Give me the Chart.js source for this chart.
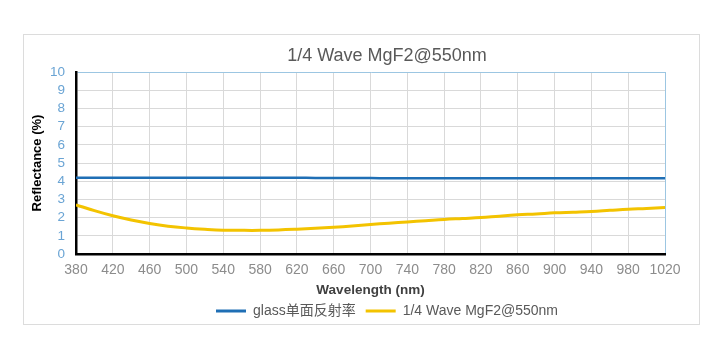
<!DOCTYPE html>
<html>
<head>
<meta charset="utf-8">
<script src="https://cdn.jsdelivr.net/npm/chart.js@4/dist/chart.umd.min.js"></script>
<style>
  html, body { margin: 0; padding: 0; background: #fff; overflow: hidden; }
  #frame { position: absolute; left: 23px; top: 34px; width: 675px; height: 289px; border: 1px solid #dcdcdc; }
  #chart { position: absolute; left: 0; top: 0; }
</style>
</head>
<body>
<div id="frame"></div>
<canvas id="chart" width="725" height="341"></canvas>
<script>
const chartTitle = '1/4 Wave MgF2@550nm';
const seriesNames = ['glass单面反射率', '1/4 Wave MgF2@550nm'];
const wavelengths = [380, 400, 420, 440, 460, 480, 500, 520, 540, 560, 580, 600, 620, 640, 660, 680, 700,
  720, 740, 760, 780, 800, 820, 840, 860, 880, 900, 920, 940, 960, 980, 1000, 1020];
const glassReflectance = [4.19, 4.19, 4.19, 4.19, 4.19, 4.19, 4.19, 4.19, 4.19, 4.19, 4.19, 4.19, 4.19, 4.18, 4.18, 4.17, 4.17,
  4.16, 4.16, 4.16, 4.16, 4.16, 4.16, 4.16, 4.16, 4.16, 4.16, 4.16, 4.16, 4.16, 4.16, 4.16, 4.16];
const mgf2Reflectance = [2.7, 2.38, 2.1, 1.87, 1.68, 1.53, 1.43, 1.36, 1.31, 1.3, 1.3, 1.32, 1.36, 1.41, 1.47, 1.54, 1.62,
  1.69, 1.76, 1.83, 1.9, 1.95, 2.0, 2.08, 2.15, 2.2, 2.26, 2.3, 2.34, 2.4, 2.46, 2.5, 2.55];
const xMin = 380, xMax = 1020, xStep = 40;
const yMin = 0, yMax = 10, yStep = 1;

const lineBlue = '#1f6fb5';
const lineYellow = '#f3c300';
const gridGray = '#d9d9d9';
const frameBlue = '#9cc6e2';

Chart.defaults.font.family = '"Liberation Sans", Arial, "Noto Sans CJK SC", sans-serif';

const toPoints = (xs, ys) => xs.map((x, i) => ({x: x, y: ys[i]}));

const ctx = document.getElementById('chart');

const chart = new Chart(ctx, {
  type: 'line',
  data: {
    datasets: [{
      label: seriesNames[0],
      data: toPoints(wavelengths, glassReflectance),
      borderColor: lineBlue,
      backgroundColor: lineBlue,
      borderWidth: 2.5,
      pointRadius: 0,
      tension: 0.4
    }, {
      label: seriesNames[1],
      data: toPoints(wavelengths, mgf2Reflectance),
      borderColor: lineYellow,
      backgroundColor: lineYellow,
      borderWidth: 3,
      pointRadius: 0,
      tension: 0.4
    }]
  },
  options: {
    responsive: false,
    animation: false,
    layout: {
      padding: {top: 45.7, left: 28, right: -21, bottom: 13}
    },
    plugins: {
      title: {
        display: true,
        text: chartTitle,
        color: '#595959',
        font: {size: 18, weight: 'normal'},
        padding: {top: 0, bottom: 4.7}
      },
      legend: {
        position: 'bottom',
        labels: {
          color: '#595959',
          font: {size: 14},
          boxWidth: 30,
          boxHeight: 3,
          padding: 10,
          generateLabels: function (c) {
            return Chart.defaults.plugins.legend.labels.generateLabels(c).map(function (item) {
              item.fillStyle = item.strokeStyle;
              item.lineWidth = 0;
              return item;
            });
          }
        }
      },
      tooltip: {enabled: false}
    },
    scales: {
      x: {
        type: 'linear',
        min: xMin,
        max: xMax,
        afterFit: function (scale) { scale.height = 40; },
        ticks: {
          stepSize: xStep,
          padding: 7.6,
          color: '#8c8c8c',
          font: {size: 14},
          maxRotation: 0,
          autoSkip: false,
          callback: function (value) { return String(value); }
        },
        grid: {
          drawTicks: false,
          color: function (c) { return c.tick && c.tick.value === xMax ? frameBlue : gridGray; }
        },
        border: {color: '#000', width: 2.5},
        title: {
          display: true,
          text: 'Wavelength (nm)',
          color: '#404040',
          font: {size: 13.5, weight: 'bold'},
          padding: {top: 0, bottom: -4}
        }
      },
      y: {
        min: yMin,
        max: yMax,
        afterFit: function (scale) { scale.width = 48; },
        ticks: {
          stepSize: yStep,
          autoSkip: false,
          padding: 11,
          color: '#6aa4d4',
          font: {size: 13.5}
        },
        grid: {
          drawTicks: false,
          color: function (c) { return c.tick && c.tick.value === yMax ? frameBlue : gridGray; }
        },
        border: {color: '#000', width: 2.5},
        title: {
          display: true,
          text: 'Reflectance (%)',
          color: '#000',
          font: {size: 13, weight: 'bold'},
          padding: {top: 1.7, bottom: 0}
        }
      },
      spacer: {
        type: 'linear',
        position: 'right',
        afterFit: function (scale) { scale.width = 81; },
        ticks: {display: false},
        grid: {display: false, drawTicks: false},
        border: {display: false}
      }
    }
  }
});
</script>
</body>
</html>
